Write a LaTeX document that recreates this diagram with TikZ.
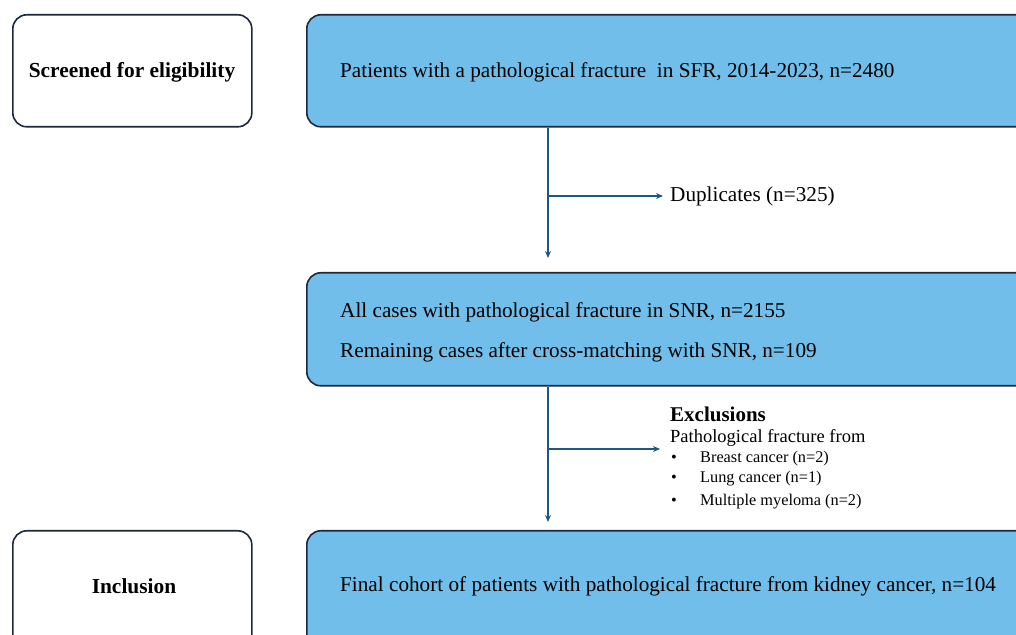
\documentclass[tikz,border=0pt]{standalone}
\usepackage{fontspec}
\setmainfont{Liberation Serif}
\usetikzlibrary{arrows.meta}
\definecolor{boxblue}{RGB}{112,190,233}
\definecolor{edgecol}{RGB}{28,40,62}
\definecolor{arrcol}{RGB}{30,88,130}
\begin{document}
\begin{tikzpicture}[x=1pt,y=1pt,
  whitebox/.style={draw=edgecol, line width=1.6pt, rounded corners=14pt, fill=white,
    minimum width=239pt, minimum height=112pt, anchor=north west, inner sep=0pt},
  bluebox/.style={draw=edgecol, line width=1.6pt, rounded corners=14pt, fill=boxblue,
    minimum width=740pt, minimum height=112pt, anchor=north west, inner sep=0pt},
  lbl/.style={font=\fontsize{21.4}{25}\selectfont\bfseries, inner sep=0pt},
  body/.style={anchor=west, inner sep=0pt, font=\fontsize{21.2}{25}\selectfont},
  small/.style={anchor=west, inner sep=0pt, font=\fontsize{16.3}{19}\selectfont},
  conn/.style={draw=arrcol, line width=1.5pt, -{Stealth[length=7pt,width=6pt]}}]
\useasboundingbox (0,0) rectangle (1016,634);
\clip (0,0) rectangle (1016,634);

% boxes
\node[whitebox] (scr) at (12,620) {};
\node[bluebox] (top) at (306,620) {};
\node[bluebox, minimum height=113pt] (mid) at (306,362) {};
\node[bluebox, minimum height=124pt] (bot) at (306,104) {};
\node[whitebox, minimum height=124pt] (inc) at (12,104) {};

% labels
\node[lbl] (scrt) at (132,562) {Screened for eligibility};
\node[lbl] (inct) at (134,48) {Inclusion};
\node[body] (topt) at (340,562) {Patients with a pathological fracture \ in SFR, 2014-2023, n=2480};
\node[body] (midt1) at (340,322) {All cases with pathological fracture in SNR, n=2155};
\node[body] (midt2) at (340,282) {Remaining cases after cross-matching with SNR, n=109};
\node[body] (bott) at (340,48) {Final cohort of patients with pathological fracture from kidney cancer, n=104};

\node[body] (dup) at (670,438) {Duplicates (n=325)};
\node[body, font=\fontsize{21}{25}\selectfont\bfseries] (exc) at (670,220) {Exclusions};
\node[small, font=\fontsize{18.5}{22}\selectfont] (excf) at (670,196) {Pathological fracture from};
\node[small] (b1) at (671,175) {•};
\node[small] (b2) at (671,155) {•};
\node[small] (b3) at (671,132) {•};
\node[small] (e1) at (700,175) {Breast cancer (n=2)};
\node[small] (e2) at (700,155) {Lung cancer (n=1)};
\node[small] (e3) at (700,132) {Multiple myeloma (n=2)};

% connectors
\coordinate (j1) at (548,438);
\coordinate (j2) at (548,185);
\coordinate (a1) at (663,438);
\coordinate (a2) at (660,185);
\draw[conn, shorten >=14pt] (top.south -| j1) -- (mid.north -| j1);
\draw[conn] (j1) -- (a1);
\draw[conn, shorten >=8pt] (mid.south -| j2) -- (bot.north -| j2);
\draw[conn] (j2) -- (a2);
\end{tikzpicture}
\end{document}
